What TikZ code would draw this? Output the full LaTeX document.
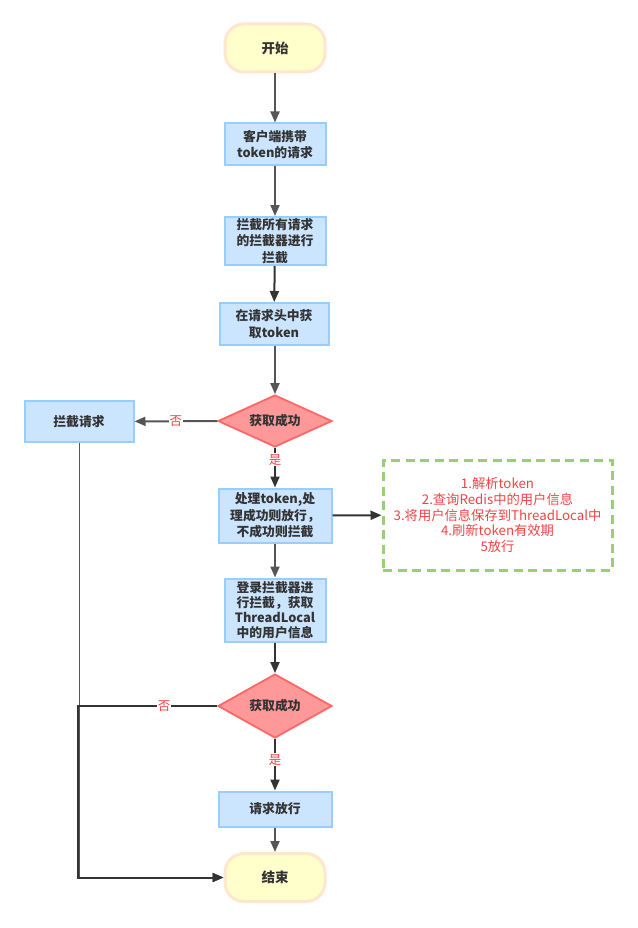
\documentclass[tikz,border=0pt]{standalone}
\usepackage{fontspec}
\setmainfont{Noto Sans CJK SC}
\usepackage{xcolor}
\usetikzlibrary{arrows.meta}
\usetikzlibrary{shapes.geometric}
\definecolor{boxfill}{HTML}{CCE5FF}
\definecolor{boxline}{HTML}{99CCFF}
\definecolor{decfill}{HTML}{FF9999}
\definecolor{decline}{HTML}{FF6666}
\definecolor{termfill}{HTML}{FFFFCC}
\definecolor{termline}{HTML}{FFE6CC}
\definecolor{noteline}{HTML}{97D077}
\definecolor{notetext}{HTML}{F04444}
\definecolor{darkline}{HTML}{333333}
\definecolor{grayline}{HTML}{555555}
\definecolor{txt}{HTML}{333333}

\begin{document}
\begin{tikzpicture}[x=1pt,y=-1pt,
    procbox/.style={draw=boxline,fill=boxfill,line width=2pt,text=txt,
      font=\bfseries\fontsize{12.8}{16.5}\selectfont,align=center,inner sep=0pt},
    decision/.style={diamond,draw=decline,fill=decfill,line width=1.8pt,text=txt,
      font=\bfseries\fontsize{12.8}{16}\selectfont,inner sep=0pt,aspect=2.3},
    terminal/.style={draw=termline,fill=termfill,line width=3pt,text=txt,
      font=\bfseries\fontsize{13.5}{16}\selectfont,rounded corners=19pt,
      minimum width=100pt,minimum height=48pt},
    flow/.style={line width=2pt,grayline,-{Triangle[length=11pt,width=9pt]}},
    flowdark/.style={line width=2pt,darkline,-{Triangle[length=11pt,width=9pt]}},
    yesno/.style={fill=white,text=notetext,font=\fontsize{12.5}{14}\selectfont,inner sep=1pt}]
    \useasboundingbox (0,0) rectangle (637,928);
    % nodes
    \node [terminal] (start) at (275,48) {开始};
    \node [procbox,minimum width=101pt,minimum height=42pt] (req) at (275,144.5) {客户端携带\\token的请求};
    \node [procbox,minimum width=101pt,minimum height=48pt] (intercept) at (275,241) {拦截所有请求\\的拦截器进行\\拦截};
    \node [procbox,minimum width=109pt,minimum height=42pt] (gettoken) at (274,324) {在请求头中获\\取token};
    \node [decision,minimum width=114pt,minimum height=52pt] (check1) at (275,421) {获取成功};
    \node [procbox,minimum width=109pt,minimum height=41pt] (reject) at (79,421.5) {拦截请求};
    \node [procbox,minimum width=113pt,minimum height=54pt] (handle) at (275,515.5) {处理token,处\\理成功则放行，\\不成功则拦截};
    \node [draw=noteline,line width=3pt,dash pattern=on 9pt off 5.5pt,text=notetext,
      font=\fontsize{13.3}{15.8}\selectfont,align=center,minimum width=229pt,
      minimum height=110pt] (notes) at (497.5,515)
      {1.解析token\\2.查询Redis中的用户信息\\3.将用户信息保存到ThreadLocal中\\4.刷新token有效期\\5放行};
    \node [procbox,minimum width=101pt,minimum height=63pt,font=\bfseries\fontsize{12.8}{15}\selectfont] (login) at (275,610) {登录拦截器进\\行拦截，获取\\ThreadLocal\\中的用户信息};
    \node [decision,minimum width=114pt,minimum height=64pt] (check2) at (275,706) {获取成功};
    \node [procbox,minimum width=113pt,minimum height=35pt] (pass) at (275,809) {请求放行};
    \node [terminal] (finish) at (275,877.5) {结束};
    \coordinate (bend) at (77.5,706);
    % connectors
    \draw [flow] (start) -- (req);
    \draw [flow] (req) -- (intercept);
    \draw [flowdark] (intercept) -- (gettoken);
    \draw [flow] (gettoken.south -| check1) -- (check1);
    \draw [flow] (check1) -- node [yesno] {否} (reject);
    \draw [flowdark] (check1) -- node [yesno,pos=0.3] {是} (handle);
    \draw [flowdark] (handle) -- (notes);
    \draw [flow] (handle) -- (login);
    \draw [flowdark] (login) -- (check2);
    \draw [flowdark] (check2) -- node [yesno,pos=0.4] {是} (pass);
    \draw [flow] (pass) -- (finish);
    \draw [flow,line width=1.5pt] (reject.south -| 79.5,0) |- (finish.west);
    \draw [flowdark] (check2.west) -- node [yesno,pos=0.38] {否} (bend) |- (finish.west);
\end{tikzpicture}
\end{document}
